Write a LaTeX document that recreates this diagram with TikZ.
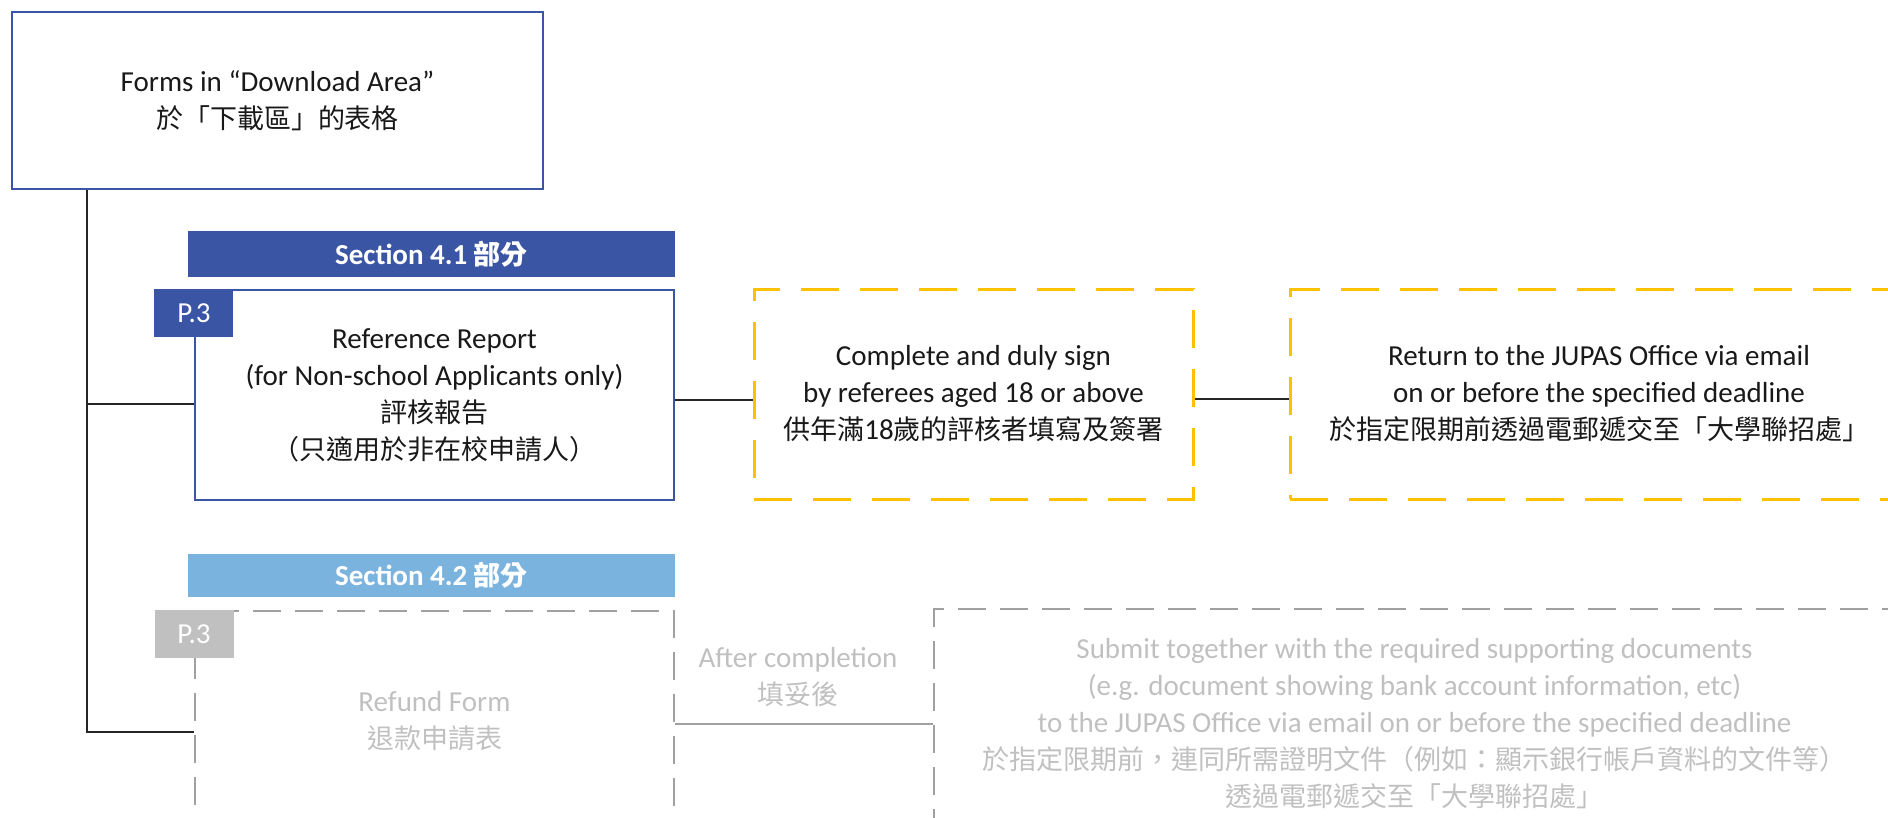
\documentclass[tikz,border=0pt]{standalone}
\usepackage{fontspec}
\setmainfont{Carlito}
\newfontfamily\cjk{Noto Sans CJK TC}
\newcommand{\zh}[1]{{\cjk\fontsize{27}{37}\selectfont #1}}
\definecolor{jublue}{HTML}{3B55A5}
\definecolor{julight}{HTML}{7BB3DF}
\definecolor{juyellow}{HTML}{FFC000}
\definecolor{jugrey}{HTML}{A0A0A0}
\definecolor{jufaint}{HTML}{C0C0C0}
\begin{document}
\begin{tikzpicture}%
	[x=1pt, y=-1pt,
	every node/.style={font=\fontsize{29}{37}\selectfont, align=center, inner sep=0pt, text=black!90},
	box/.style={draw=jublue, line width=2.1pt, fill=white},
	todo/.style={draw=juyellow, line width=3pt, dash pattern=on 38pt off 21pt},
	faded/.style={draw=jugrey, line width=2pt, dash pattern=on 28pt off 14pt, text=jufaint},
	bar/.style={fill=#1, text=white, font=\fontsize{29}{37}\selectfont\bfseries, minimum width=487pt},
	tag/.style={fill=#1, text=white, minimum width=79pt, minimum height=48pt, anchor=north},
	link/.style={draw=black!85, line width=1.6pt},
	fadedlink/.style={draw=jugrey, line width=2.2pt}]
%
\useasboundingbox (0,0) rectangle (1888,817);
%%
%% Section 4.1
%%
\node[box, minimum width=531pt, minimum height=177pt] (forms) at (277.5,100.5)
	{Forms in “Download Area”\\\zh{於「下載區」的表格}};
\node[bar=jublue, minimum height=46pt] (sec41) at (431.5,254) {Section 4.1 \zh{\bfseries 部分}};
\node[box, minimum width=479pt, minimum height=210pt] (refrep) at (434.5,395)
	{Reference Report\\(for Non-school Applicants only)\\\zh{評核報告}\\\zh{（只適用於非在校申請人）}};
\node[tag=jublue] (tagA) at (refrep.north west) {P.3};
\node[todo, minimum width=439pt, minimum height=210pt] (sign) at (973.5,394)
	{Complete and duly sign\\by referees aged 18 or above\\\zh{供年滿}18\zh{歲的評核者填寫及簽署}};
\node[todo, minimum width=618pt, minimum height=210pt] (ret) at (1599,394)
	{Return to the JUPAS Office via email\\on or before the specified deadline\\\zh{於指定限期前透過電郵遞交至「大學聯招處」}};
%%
%% Section 4.2
%%
\node[bar=julight, minimum height=43pt] (sec42) at (431.5,575.5) {Section 4.2 \zh{\bfseries 部分}};
\node[faded, minimum width=479pt, minimum height=220pt] (refund) at (434.5,721)
	{Refund Form\\\zh{退款申請表}};
\node[tag=jufaint] (tagB) at (refund.north west) {P.3};
\node[text=jufaint] (after) at (798,677) {After completion\\\zh{填妥後}};
\node[faded, minimum width=961pt, minimum height=230pt] (submit) at (1414.5,724)
	{Submit together with the required supporting documents\\(e.g. document showing bank account information, etc)\\to the JUPAS Office via email on or before the specified deadline\\\zh{於指定限期前，連同所需證明文件（例如：顯示銀行帳戶資料的文件等）}\\\zh{透過電郵遞交至「大學聯招處」}};
%%
%% Connectors
%%
\coordinate (stem) at ([xshift=76pt]forms.south west);
\coordinate (refrepin) at ([yshift=-9pt]refrep.west);
\coordinate (refrepout) at ([yshift=-5pt]refrep.east);
\coordinate (signout) at ([yshift=-5pt]sign.east);
\coordinate (refundin) at ([yshift=-11pt]refund.west);
\coordinate (refundout) at ([yshift=-3pt]refund.east);
\draw[link] (stem) -- (stem |- refundin) -- (refundin);
\draw[link] (stem |- refrepin) -- (refrepin);
\draw[link] (refrepout) -- (refrepout -| sign.west);
\draw[link] (signout) -- (signout -| ret.west);
\draw[fadedlink] (refundout) -- (refundout -| submit.west);
%%
\end{tikzpicture}
\end{document}
